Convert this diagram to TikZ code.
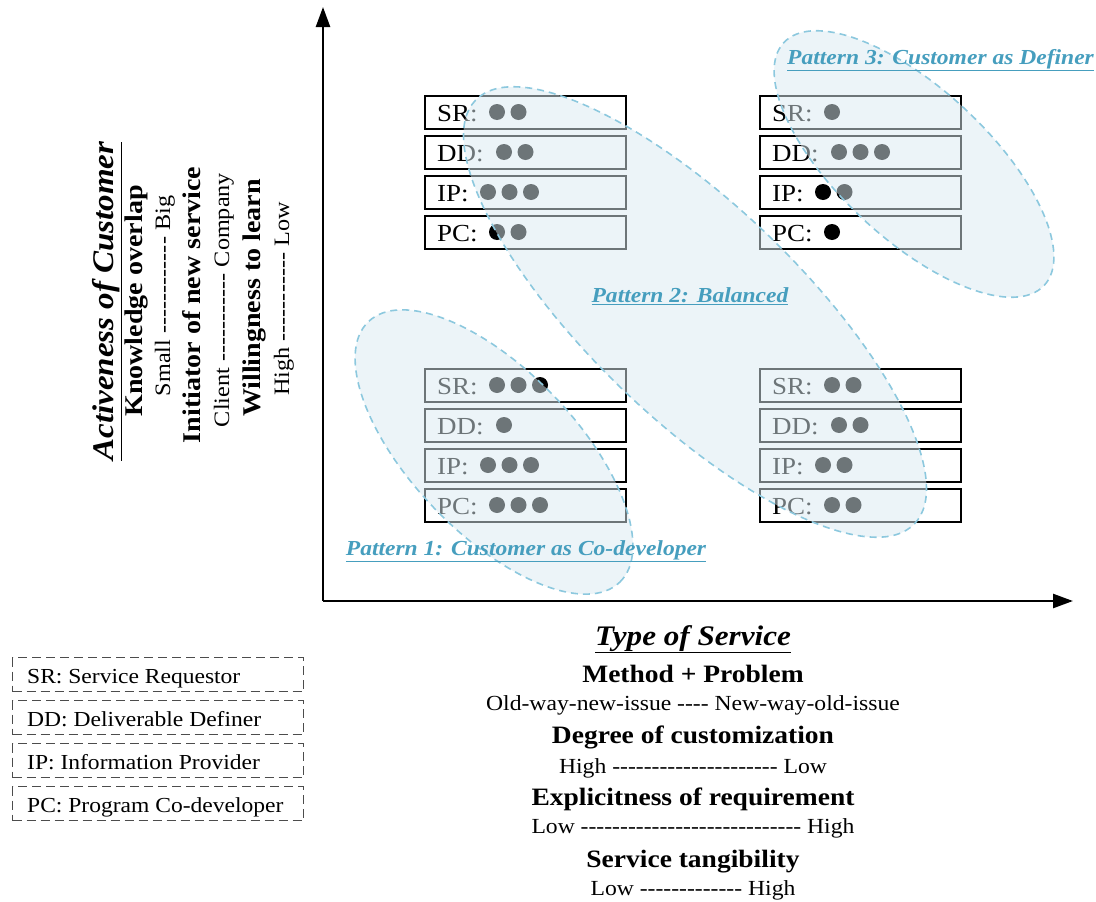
\documentclass[tikz,border=0pt]{standalone}
\usepackage{fontspec}
\setmainfont{Liberation Serif}[FakeStretch=1.1,Ligatures=TeXOff]
\usetikzlibrary{arrows.meta,shapes.geometric}
\definecolor{pat}{RGB}{70,158,190}
\definecolor{ovfill}{RGB}{218,234,241}
\definecolor{ovline}{RGB}{140,200,222}
\newcommand{\fs}[1]{\fontsize{#1}{#1}\selectfont}
\begin{document}
\begin{tikzpicture}[x=1pt,y=-1pt,
 rowbox/.style={draw=black,line width=1.8pt,minimum width=201pt,minimum height=33pt,inner sep=0pt,anchor=north west},
 rowlab/.style={anchor=base west,inner sep=0pt,font=\fs{24.5}},
 legbox/.style={draw=black!70,dash pattern=on 9pt off 5pt,line width=1.3pt,minimum width=291pt,minimum height=34pt,anchor=north west,inner sep=0pt},
 leglab/.style={anchor=base west,inner sep=0pt,font=\fs{21.4}},
 patt/.style={ellipse,draw=ovline,dash pattern=on 7pt off 5pt,line width=1.6pt,fill=ovfill,fill opacity=0.5,draw opacity=1,inner sep=0pt},
 pattlab/.style={text=pat,font=\fs{21.4}\bfseries\itshape,inner sep=0pt},
 axisline/.style={line width=2.5pt,-{Triangle[length=20pt,width=14pt]}},
 rot/.style={rotate=90,anchor=base,inner sep=0pt},
 captxt/.style={anchor=base,inner sep=0pt}
]
\useasboundingbox (0,0) rectangle (1096,902);
% axes
\coordinate (O) at (323,601);
\coordinate (ytip) at (323,7);
\coordinate (xtip) at (1073,601);
\draw[axisline] (O) -- (ytip);
\draw[axisline] (O) -- (xtip);
% quadrant boxes
\foreach \p/\bx/\by/\na/\nb/\nc/\nd in {tl/424/95/2/2/3/2, tr/759/95/1/3/2/1, bl/424/368/3/1/3/3, br/759/368/2/2/2/2}{
  \foreach \r/\lab/\off/\n [count=\i from 0] in {sr/SR/60/\na, dd/DD/67/\nb, ip/IP/51/\nc, pc/PC/60/\nd}{
    \node[rowbox] (\p\r) at (\bx,\by+40*\i) {};
    \node[rowlab] (\p\r l) at (\bx+13,\by+40*\i+26.5) {\lab:};
    \foreach \k in {1,...,\n}{
      \fill (\bx+13+\off+21.5*\k-21.5,\by+40*\i+17) circle[radius=8pt];
    }
  }
}
% pattern overlays
\node[patt,minimum width=362pt,minimum height=164pt,rotate=-46] (p1) at (494,452) {};
\node[patt,minimum width=610pt,minimum height=212pt,rotate=-44] (p2) at (695,312) {};
\node[patt,minimum width=356pt,minimum height=150pt,rotate=-43] (p3) at (914,164) {};
\node[pattlab,anchor=base west] (l3) at (787,64) {\underline{Pattern 3: Customer as Definer}};
\node[pattlab,anchor=base] (l2) at (690,302) {\underline{Pattern 2: Balanced}};
\node[pattlab,anchor=base] (l1) at (526,555) {\underline{Pattern 1: Customer as Co-developer}};
% y-axis description
\node[rot,font=\fs{30}\bfseries\itshape] (ya) at (113,301) {\underline{Activeness of Customer}};
\node[rot,font=\fs{25.5}\bfseries] (y1) at (142,301) {Knowledge overlap};
\node[rot,font=\fs{22}] (y2) at (170,296) {Small ------------ Big};
\node[rot,font=\fs{25.5}\bfseries] (y3) at (200,305) {Initiator of new service};
\node[rot,font=\fs{22}] (y4) at (229,300) {Client ----------- Company};
\node[rot,font=\fs{25.5}\bfseries] (y5) at (260,298) {Willingness to learn};
\node[rot,font=\fs{22}] (y6) at (289,299) {High ----------- Low};
% x-axis description
\node[captxt,font=\fs{28.3}\bfseries\itshape] (xa) at (693,645) {\underline{Type of Service}};
\node[captxt,font=\fs{25}\bfseries] (x1) at (693,682) {Method + Problem};
\node[captxt,font=\fs{21.5}] (x2) at (693,710) {Old-way-new-issue ---- New-way-old-issue};
\node[captxt,font=\fs{25}\bfseries] (x3) at (693,743) {Degree of customization};
\node[captxt,font=\fs{21.5}] (x4) at (693,773) {High --------------------- Low};
\node[captxt,font=\fs{25}\bfseries] (x5) at (693,805) {Explicitness of requirement};
\node[captxt,font=\fs{21.5}] (x6) at (693,833) {Low ---------------------------- High};
\node[captxt,font=\fs{25}\bfseries] (x7) at (693,867) {Service tangibility};
\node[captxt,font=\fs{21.5}] (x8) at (693,895) {Low ------------- High};
% legend
\foreach \r/\txt [count=\i from 0] in {sr/SR: Service Requestor, dd/DD: Deliverable Definer, ip/IP: Information Provider, pc/PC: Program Co-developer}{
  \node[legbox] (leg\r) at (12,657+43*\i) {};
  \node[leglab] (leg\r t) at (27,683.5+43*\i) {\txt};
}
\end{tikzpicture}
\end{document}
